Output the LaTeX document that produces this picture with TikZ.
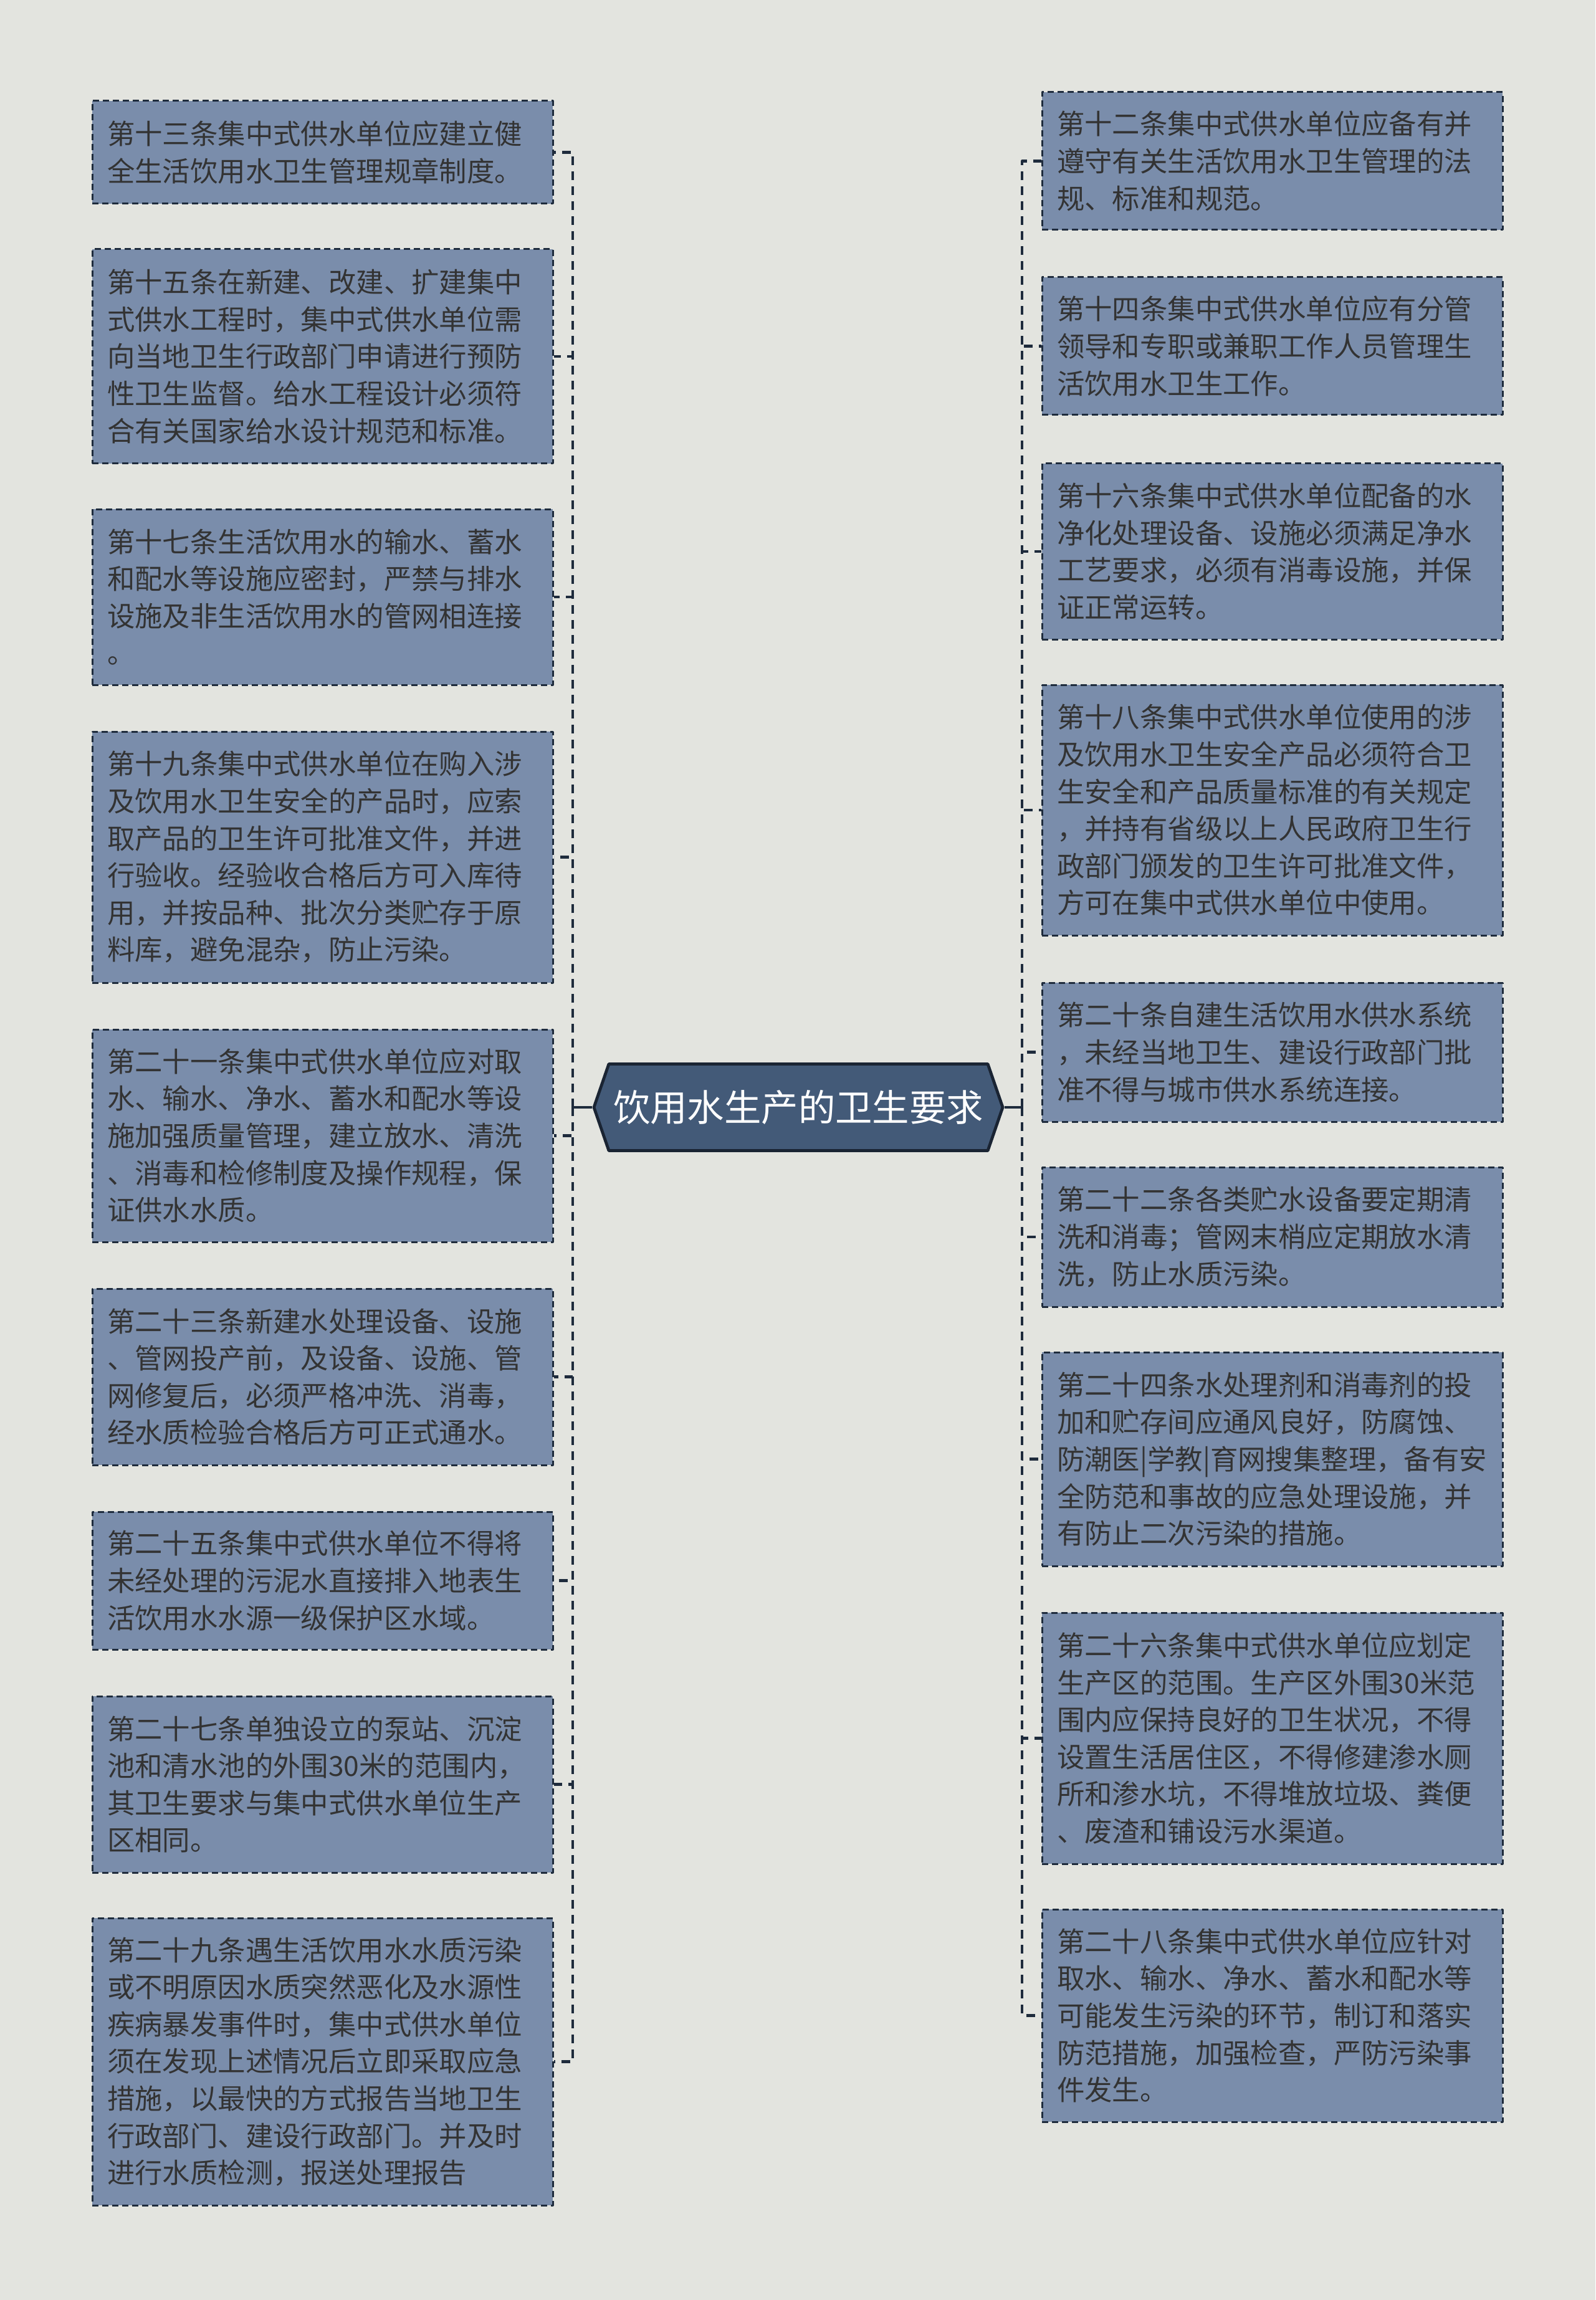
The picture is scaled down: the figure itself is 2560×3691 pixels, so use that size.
\documentclass[tikz,border=0pt]{standalone}
\usepackage{fontspec}
\setmainfont{Noto Sans CJK SC}
\usetikzlibrary{shapes.symbols}
\definecolor{bgcol}{HTML}{E3E4DF}
\definecolor{boxfill}{HTML}{7A8DAB}
\definecolor{boxline}{HTML}{1E2B3C}
\definecolor{hubfill}{HTML}{435A78}
\definecolor{hubline}{HTML}{1A2433}
\definecolor{txtcol}{HTML}{333333}

\begin{document}
\begin{tikzpicture}[x=0.25pt,y=-0.25pt,line join=round,
  leaf/.style={draw=boxline,fill=boxfill,line width=0.75pt,dash pattern=on 2.5pt off 1.5pt,text=txtcol,font=\fontsize{11.1pt}{14.9pt}\selectfont,text width=172.75pt,align=left,inner xsep=6pt,inner ysep=0pt},
  hub/.style={signal,signal to=west and east,signal pointer angle=142,draw=hubline,fill=hubfill,line width=1.2pt,text=white,font=\fontsize{14.85pt}{18pt}\selectfont,minimum width=164pt,minimum height=34.75pt,inner sep=0pt},
  link/.style={draw=boxline,line width=1.05pt,dash pattern=on 3.5pt off 2.5pt},
  stem/.style={draw=boxline,line width=1pt}]
\useasboundingbox (0,0) rectangle (2560,3691);
\fill [bgcol] (0,0) rectangle (2560,3691);

\node [hub] (hub) at (1281,1777) {饮用水生产的卫生要求};

\node [leaf,minimum height=41.25pt] (l1) at (517.5,244.5) {第十三条集中式供水单位应建立健\\全生活饮用水卫生管理规章制度。};
\node [leaf,minimum height=86pt] (l2) at (517.5,572) {第十五条在新建、改建、扩建集中\\式供水工程时，集中式供水单位需\\向当地卫生行政部门申请进行预防\\性卫生监督。给水工程设计必须符\\合有关国家给水设计规范和标准。};
\node [leaf,minimum height=70.5pt] (l3) at (517.5,958) {第十七条生活饮用水的输水、蓄水\\和配水等设施应密封，严禁与排水\\设施及非生活饮用水的管网相连接\\。};
\node [leaf,minimum height=100.75pt] (l4) at (517.5,1375.5) {第十九条集中式供水单位在购入涉\\及饮用水卫生安全的产品时，应索\\取产品的卫生许可批准文件，并进\\行验收。经验收合格后方可入库待\\用，并按品种、批次分类贮存于原\\料库，避免混杂，防止污染。};
\node [leaf,minimum height=85.25pt] (l5) at (517.5,1822.5) {第二十一条集中式供水单位应对取\\水、输水、净水、蓄水和配水等设\\施加强质量管理，建立放水、清洗\\、消毒和检修制度及操作规程，保\\证供水水质。};
\node [leaf,minimum height=70.75pt] (l6) at (517.5,2209.5) {第二十三条新建水处理设备、设施\\、管网投产前，及设备、设施、管\\网修复后，必须严格冲洗、消毒，\\经水质检验合格后方可正式通水。};
\node [leaf,minimum height=55.25pt] (l7) at (517.5,2536.5) {第二十五条集中式供水单位不得将\\未经处理的污泥水直接排入地表生\\活饮用水水源一级保护区水域。};
\node [leaf,minimum height=70.75pt] (l8) at (517.5,2863.5) {第二十七条单独设立的泵站、沉淀\\池和清水池的外围30米的范围内，\\其卫生要求与集中式供水单位生产\\区相同。};
\node [leaf,minimum height=115.25pt] (l9) at (517.5,3308.5) {第二十九条遇生活饮用水水质污染\\或不明原因水质突然恶化及水源性\\疾病暴发事件时，集中式供水单位\\须在发现上述情况后立即采取应急\\措施，以最快的方式报告当地卫生\\行政部门、建设行政部门。并及时\\进行水质检测，报送处理报告};

\node [leaf,minimum height=55.25pt] (r1) at (2041.5,258.5) {第十二条集中式供水单位应备有并\\遵守有关生活饮用水卫生管理的法\\规、标准和规范。};
\node [leaf,minimum height=55.25pt] (r2) at (2041.5,555.5) {第十四条集中式供水单位应有分管\\领导和专职或兼职工作人员管理生\\活饮用水卫生工作。};
\node [leaf,minimum height=70.5pt] (r3) at (2041.5,885) {第十六条集中式供水单位配备的水\\净化处理设备、设施必须满足净水\\工艺要求，必须有消毒设施，并保\\证正常运转。};
\node [leaf,minimum height=100.5pt] (r4) at (2041.5,1300) {第十八条集中式供水单位使用的涉\\及饮用水卫生安全产品必须符合卫\\生安全和产品质量标准的有关规定\\，并持有省级以上人民政府卫生行\\政部门颁发的卫生许可批准文件，\\方可在集中式供水单位中使用。};
\node [leaf,minimum height=55.75pt] (r5) at (2041.5,1688.5) {第二十条自建生活饮用水供水系统\\，未经当地卫生、建设行政部门批\\准不得与城市供水系统连接。};
\node [leaf,minimum height=56pt] (r6) at (2041.5,1985) {第二十二条各类贮水设备要定期清\\洗和消毒；管网末梢应定期放水清\\洗，防止水质污染。};
\node [leaf,minimum height=85.75pt] (r7) at (2041.5,2341.5) {第二十四条水处理剂和消毒剂的投\\加和贮存间应通风良好，防腐蚀、\\防潮医|学教|育网搜集整理，备有安\\全防范和事故的应急处理设施，并\\有防止二次污染的措施。};
\node [leaf,minimum height=100.75pt] (r8) at (2041.5,2789.5) {第二十六条集中式供水单位应划定\\生产区的范围。生产区外围30米范\\围内应保持良好的卫生状况，不得\\设置生活居住区，不得修建渗水厕\\所和渗水坑，不得堆放垃圾、粪便\\、废渣和铺设污水渠道。};
\node [leaf,minimum height=85.25pt] (r9) at (2041.5,3234.5) {第二十八条集中式供水单位应针对\\取水、输水、净水、蓄水和配水等\\可能发生污染的环节，制订和落实\\防范措施，加强检查，严防污染事\\件发生。};

\coordinate (ljoin) at (919,1777);
\coordinate (rjoin) at (1640,1777);
\draw [stem] (hub.west) -- (ljoin);
\draw [stem] (hub.east) -- (rjoin);
\draw [link] (ljoin) |- (l1.east);
\draw [link] (ljoin) |- (l2.east);
\draw [link] (ljoin) |- (l3.east);
\draw [link] (ljoin) |- (l4.east);
\draw [link] (ljoin) |- (l5.east);
\draw [link] (ljoin) |- (l6.east);
\draw [link] (ljoin) |- (l7.east);
\draw [link] (ljoin) |- (l8.east);
\draw [link] (ljoin) |- (l9.east);
\draw [link] (rjoin) |- (r1.west);
\draw [link] (rjoin) |- (r2.west);
\draw [link] (rjoin) |- (r3.west);
\draw [link] (rjoin) |- (r4.west);
\draw [link] (rjoin) |- (r5.west);
\draw [link] (rjoin) |- (r6.west);
\draw [link] (rjoin) |- (r7.west);
\draw [link] (rjoin) |- (r8.west);
\draw [link] (rjoin) |- (r9.west);
\end{tikzpicture}
\end{document}
